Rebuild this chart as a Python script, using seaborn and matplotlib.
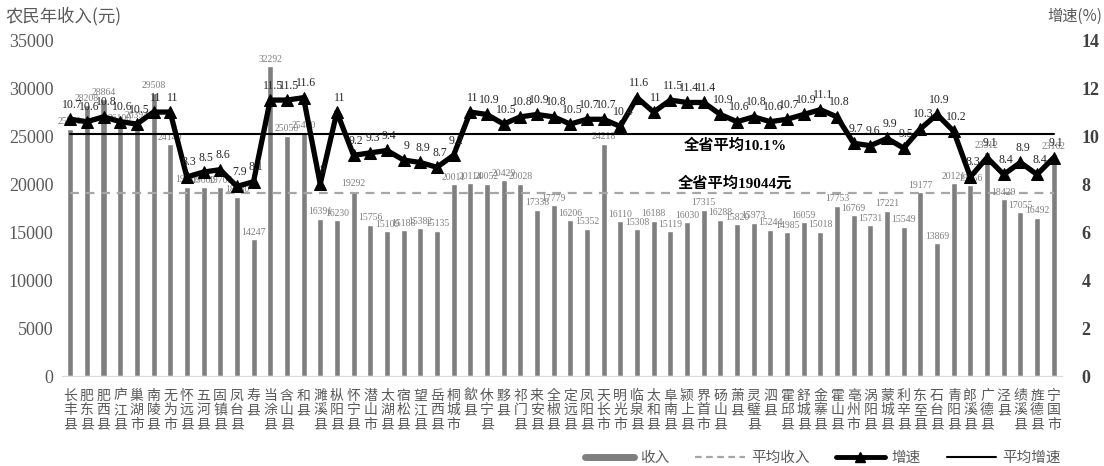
import numpy as np
import pandas as pd
import matplotlib
matplotlib.use("Agg")
import matplotlib.pyplot as plt
import seaborn as sns
from matplotlib.lines import Line2D

counties = ["长丰县","肥东县","肥西县","庐江县","巢湖市","南陵县","无为市","怀远县","五河县","固镇县",
            "凤台县","寿县","当涂县","含山县","和县","濉溪县","枞阳县","怀宁县","潜山市","太湖县",
            "宿松县","望江县","岳西县","桐城市","歙县","休宁县","黟县","祁门县","来安县","全椒县",
            "定远县","凤阳县","天长市","明光市","临泉县","太和县","阜南县","颍上县","界首市","砀山县",
            "萧县","灵璧县","泗县","霍邱县","舒城县","金寨县","霍山县","亳州市","涡阳县","蒙城县",
            "利辛县","东至县","石台县","青阳县","郎溪县","广德县","泾县","绩溪县","旌德县","宁国市"]
income = [25781, 28208, 28864, 26100, 26394, 29508, 24140, 19720, 19660, 19705,
          18680, 14247, 32292, 25050, 25400, 16391, 16230, 19292, 15756, 15109,
          15188, 15382, 15135, 20011, 20114, 20052, 20429, 20028, 17338, 17779,
          16206, 15352, 24218, 16110, 15308, 16188, 15119, 16030, 17315, 16288,
          15820, 15973, 15244, 14985, 16059, 15018, 17753, 16769, 15731, 17221,
          15549, 19177, 13869, 20121, 19856, 23312, 18429, 17055, 16492, 23162]
growth = [10.7, 10.6, 10.8, 10.6, 10.5, 11.0, 11.0, 8.3, 8.5, 8.6,
          7.9, 8.1, 11.5, 11.5, 11.6, 8.0, 11.0, 9.2, 9.3, 9.4,
          9.0, 8.9, 8.7, 9.2, 11.0, 10.9, 10.5, 10.8, 10.9, 10.8,
          10.5, 10.7, 10.7, 10.4, 11.6, 11.0, 11.5, 11.4, 11.4, 10.9,
          10.6, 10.8, 10.6, 10.7, 10.9, 11.1, 10.8, 9.7, 9.6, 9.9,
          9.5, 10.3, 10.9, 10.2, 8.3, 9.1, 8.4, 8.9, 8.4, 9.1]
avg_income = 19044
avg_growth = 10.1
left_ticks = [0, 5000, 10000, 15000, 20000, 25000, 30000, 35000]
right_ticks = [0, 2, 4, 6, 8, 10, 12, 14]

sns.set_style("white")
CJK = ["Noto Sans CJK SC", "DejaVu Sans"]
SERIF = ["Liberation Serif", "Noto Sans CJK SC"]
plt.rcParams["font.family"] = CJK
plt.rcParams["axes.unicode_minus"] = False

df = pd.DataFrame({"county": counties, "income": income, "growth": growth,
                   "pos": np.arange(len(counties))})

fig = plt.figure(figsize=(11.04, 4.66), dpi=100)
ax = fig.add_axes([0.056, 0.193, 0.906, 0.721])
sns.barplot(data=df, x="county", y="income", color="#7f7f7f", saturation=1,
            width=0.36, ax=ax, order=counties)
ax.set_xlim(-0.5, len(counties) - 0.5)
ax.set_ylim(0, 35000)
ax.set_yticks(left_ticks)
ax.set_yticklabels([str(t) for t in left_ticks], fontsize=13, color="#595959",
                   family=SERIF)
ax.set_xticks(range(len(counties)))
ax.set_xticklabels(["\n".join(c) for c in counties], fontsize=10, color="#595959",
                   linespacing=1.05, va="top")
ax.tick_params(axis="x", length=0, pad=9)
ax.tick_params(axis="y", length=0, pad=6)
ax.set_xlabel("")
ax.set_ylabel("")
for s in ["top", "left", "right"]:
    ax.spines[s].set_visible(False)
ax.spines["bottom"].set_color("#d9d9d9")

# average income dashed
ax.plot([0, len(counties) - 1], [avg_income, avg_income], ls=(0, (4, 3)),
        color="#a6a6a6", lw=1.6, zorder=3)

# bar labels
for i, v in enumerate(income):
    ax.text(i, v + 250, str(v), ha="center", va="bottom", fontsize=7,
            color="#7f7f7f", family=SERIF)

ax2 = ax.twinx()
sns.lineplot(data=df, x="pos", y="growth", ax=ax2, color="black", lw=3.8,
             marker="^", markersize=8, markeredgecolor="black", zorder=5)
ax2.plot([0, len(counties) - 1], [avg_growth, avg_growth], color="black", lw=1.5, zorder=4)
ax2.set_ylim(0, 14)
ax2.set_xlim(-0.5, len(counties) - 0.5)
ax2.set_yticks(right_ticks)
ax2.set_yticklabels([str(t) for t in right_ticks], fontsize=13, color="#404040",
                    family=SERIF, fontweight="bold")
ax2.tick_params(axis="y", length=0, pad=14)
ax2.set_xlabel("")
ax2.set_ylabel("")
for s in ["top", "left", "right", "bottom"]:
    ax2.spines[s].set_visible(False)

for i, g in enumerate(growth):
    lab = f"{g:g}"
    ax2.text(i + 0.15, g + 0.35, lab, ha="center", va="bottom", fontsize=8.5,
             color="#262626", family=SERIF, zorder=6)

ax2.text(39.9, 9.58, "全省平均10.1%", ha="center", va="center", fontsize=11,
         fontweight="bold", color="black", family=SERIF)
ax.text(39.9, 20100, "全省平均19044元", ha="center", va="center", fontsize=11,
        fontweight="bold", color="black", family=SERIF, zorder=6)

fig.text(0.005, 0.965, "农民年收入(元)", fontsize=12.5, color="#595959", va="center")
fig.text(0.998, 0.965, "增速(%)", fontsize=11, color="#595959", va="center", ha="right")

handles = [Line2D([0], [0], color="#7f7f7f", lw=5),
           Line2D([0], [0], color="#a6a6a6", lw=1.6, ls=(0, (3, 2))),
           Line2D([0], [0], color="black", lw=3.5, marker="^", markersize=7),
           Line2D([0], [0], color="black", lw=1.5)]
fig.legend(handles, ["收入", "平均收入", "增速", "平均增速"], loc="center",
           bbox_to_anchor=(0.745, 0.018), ncol=4, frameon=False, fontsize=10.5,
           handlelength=3.4, columnspacing=1.8, handletextpad=0.4,
           labelcolor="#595959")

fig.savefig("out.png", dpi=100)
